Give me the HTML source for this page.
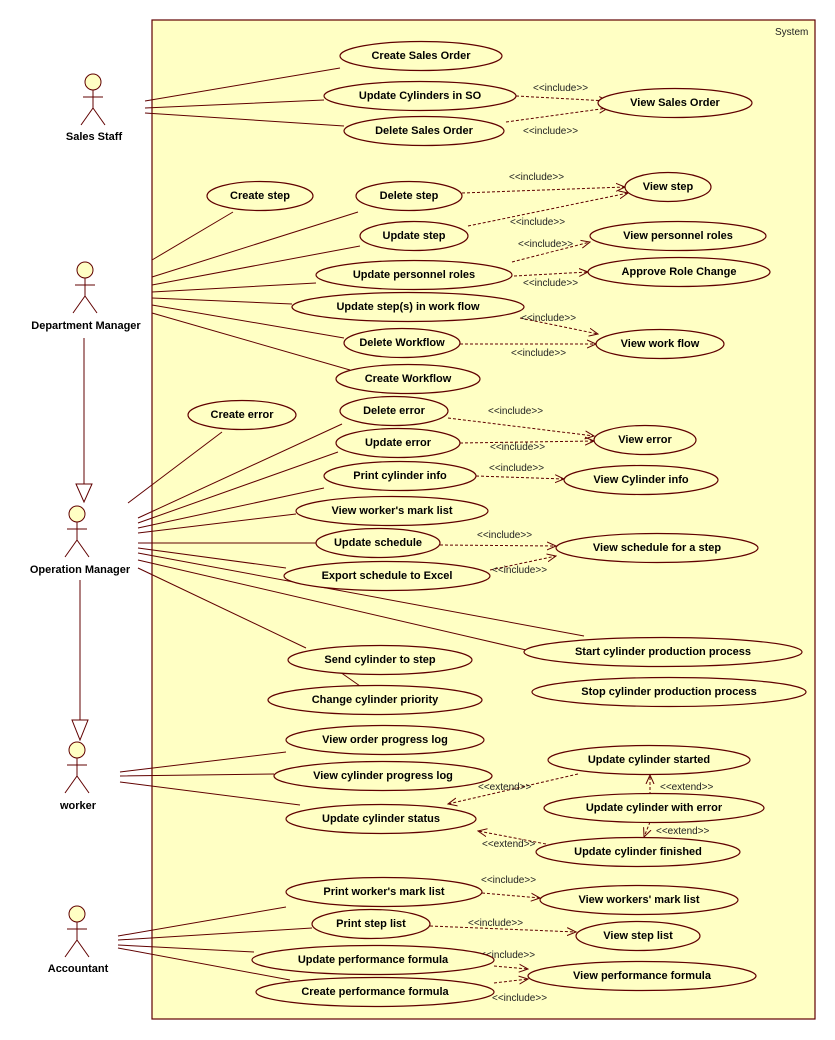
<!DOCTYPE html>
<html><head><meta charset="utf-8"><style>
html,body{margin:0;padding:0;background:#fff;}
svg{display:block;}
.e{fill:#ffffc4;stroke:#600000;stroke-width:1.2}
.t{font-family:"Liberation Sans",Tahoma,sans-serif;font-weight:bold;font-size:11px;fill:#000;text-anchor:middle;dominant-baseline:central}
.s{font-family:"Liberation Sans",Tahoma,sans-serif;font-size:10px;fill:#222}
.a{font-family:"Liberation Sans",Tahoma,sans-serif;font-weight:bold;font-size:11px;fill:#000;text-anchor:middle}
.l{stroke:#600000;stroke-width:1;fill:none}
.d{stroke:#600000;stroke-width:1;fill:none;stroke-dasharray:3,2;marker-end:url(#arr)}
</style></head><body>
<svg width="835" height="1040" viewBox="0 0 835 1040" xmlns="http://www.w3.org/2000/svg">
<defs><marker id="arr" markerWidth="10" markerHeight="10" refX="9" refY="5" orient="auto" markerUnits="userSpaceOnUse"><path d="M0,1 L9,5 L0,9" fill="none" stroke="#600000" stroke-width="1"/></marker></defs>
<rect x="152" y="20" width="663" height="999" fill="#ffffc4" stroke="#600000" stroke-width="1.2"/>
<text x="775" y="35" class="s">System</text>

<!-- associations -->
<g class="l">
<path d="M145,101 L340,68 M145,108 L324,100 M145,113 L344,126"/>
<path d="M152,260 L233,212 M152,277 L358,212 M152,285 L360,246 M152,292 L316,283 M152,298 L292,304 M152,305 L344,338 M152,313 L350,370"/>
<path d="M128,503 L222,432 M138,518 L342,424 M138,523 L338,452 M138,528 L324,488 M138,533 L296,514 M138,543 L316,543 M138,548 L286,568 M138,553 L584,636 M138,560 L526,650 M138,568 L306,648 M340,672 L360,686"/>
<path d="M120,772 L286,752 M120,776 L274,774 M120,782 L300,805"/>
<path d="M118,936 L286,907 M118,940 L312,928 M118,945 L254,952 M118,948 L290,980"/>
</g>
<!-- generalizations -->
<g class="l">
<path d="M84,338 L84,484 M76,484 L92,484 L84,502 Z" fill="#fff"/>
<path d="M80,580 L80,720 M72,720 L88,720 L80,740 Z" fill="#fff"/>
</g>

<!-- actors -->
<g class="l" fill="#ffffc4">
<g transform="translate(93,82)"><circle r="8" fill="#ffffc4"/><path d="M0,8 V26 M-10,15 H10 M0,26 L-12,43 M0,26 L12,43"/></g>
<g transform="translate(85,270)"><circle r="8" fill="#ffffc4"/><path d="M0,8 V26 M-10,15 H10 M0,26 L-12,43 M0,26 L12,43"/></g>
<g transform="translate(77,514)"><circle r="8" fill="#ffffc4"/><path d="M0,8 V26 M-10,15 H10 M0,26 L-12,43 M0,26 L12,43"/></g>
<g transform="translate(77,750)"><circle r="8" fill="#ffffc4"/><path d="M0,8 V26 M-10,15 H10 M0,26 L-12,43 M0,26 L12,43"/></g>
<g transform="translate(77,914)"><circle r="8" fill="#ffffc4"/><path d="M0,8 V26 M-10,15 H10 M0,26 L-12,43 M0,26 L12,43"/></g>
</g>
<text class="a" x="94" y="140">Sales Staff</text>
<text class="a" x="86" y="329">Department Manager</text>
<text class="a" x="80" y="573">Operation Manager</text>
<text class="a" x="78" y="809">worker</text>
<text class="a" x="78" y="972">Accountant</text>

<!-- dashed -->
<path class="d" d="M516,96 L608,101"/>
<path class="d" d="M506,122 L608,108"/>
<path class="d" d="M462,193 L625,187"/>
<path class="d" d="M468,226 L628,193"/>
<path class="d" d="M512,262 L590,242"/>
<path class="d" d="M514,276 L588,272"/>
<path class="d" d="M520,318 L598,334"/>
<path class="d" d="M460,344 L596,344"/>
<path class="d" d="M448,418 L594,436"/>
<path class="d" d="M460,443 L594,441"/>
<path class="d" d="M476,476 L564,479"/>
<path class="d" d="M440,545 L556,546"/>
<path class="d" d="M490,570 L556,556"/>
<path class="d" d="M578,774 L448,804"/>
<path class="d" d="M650,795 L650,775"/>
<path class="d" d="M650,822 L644,837"/>
<path class="d" d="M546,844 L478,831"/>
<path class="d" d="M482,893 L540,898"/>
<path class="d" d="M430,926 L576,932"/>
<path class="d" d="M494,966 L528,969"/>
<path class="d" d="M494,983 L528,979"/>

<g class="s">
<text x="533" y="91">&lt;&lt;include&gt;&gt;</text>
<text x="523" y="134">&lt;&lt;include&gt;&gt;</text>
<text x="509" y="180">&lt;&lt;include&gt;&gt;</text>
<text x="510" y="225">&lt;&lt;include&gt;&gt;</text>
<text x="518" y="247">&lt;&lt;include&gt;&gt;</text>
<text x="523" y="286">&lt;&lt;include&gt;&gt;</text>
<text x="521" y="321">&lt;&lt;include&gt;&gt;</text>
<text x="511" y="356">&lt;&lt;include&gt;&gt;</text>
<text x="488" y="414">&lt;&lt;include&gt;&gt;</text>
<text x="490" y="450">&lt;&lt;include&gt;&gt;</text>
<text x="489" y="471">&lt;&lt;include&gt;&gt;</text>
<text x="477" y="538">&lt;&lt;include&gt;&gt;</text>
<text x="492" y="573">&lt;&lt;include&gt;&gt;</text>
<text x="478" y="790">&lt;&lt;extend&gt;&gt;</text>
<text x="660" y="790">&lt;&lt;extend&gt;&gt;</text>
<text x="656" y="834">&lt;&lt;extend&gt;&gt;</text>
<text x="482" y="847">&lt;&lt;extend&gt;&gt;</text>
<text x="481" y="883">&lt;&lt;include&gt;&gt;</text>
<text x="468" y="926">&lt;&lt;include&gt;&gt;</text>
<text x="480" y="958">&lt;&lt;include&gt;&gt;</text>
<text x="492" y="1001">&lt;&lt;include&gt;&gt;</text>
</g>

<!-- use cases -->
<g>
<ellipse class="e" cx="421" cy="56" rx="81" ry="14.5"/><text class="t" x="421" y="56">Create Sales Order</text>
<ellipse class="e" cx="420" cy="96" rx="96" ry="14.5"/><text class="t" x="420" y="96">Update Cylinders in SO</text>
<ellipse class="e" cx="424" cy="131" rx="80" ry="14.5"/><text class="t" x="424" y="131">Delete Sales Order</text>
<ellipse class="e" cx="675" cy="103" rx="77" ry="14.5"/><text class="t" x="675" y="103">View Sales Order</text>
<ellipse class="e" cx="260" cy="196" rx="53" ry="14.5"/><text class="t" x="260" y="196">Create step</text>
<ellipse class="e" cx="409" cy="196" rx="53" ry="14.5"/><text class="t" x="409" y="196">Delete step</text>
<ellipse class="e" cx="668" cy="187" rx="43" ry="14.5"/><text class="t" x="668" y="187">View step</text>
<ellipse class="e" cx="414" cy="236" rx="54" ry="14.5"/><text class="t" x="414" y="236">Update step</text>
<ellipse class="e" cx="678" cy="236" rx="88" ry="14.5"/><text class="t" x="678" y="236">View personnel roles</text>
<ellipse class="e" cx="414" cy="275" rx="98" ry="14.5"/><text class="t" x="414" y="275">Update personnel roles</text>
<ellipse class="e" cx="679" cy="272" rx="91" ry="14.5"/><text class="t" x="679" y="272">Approve Role Change</text>
<ellipse class="e" cx="408" cy="307" rx="116" ry="14.5"/><text class="t" x="408" y="307">Update step(s) in work flow</text>
<ellipse class="e" cx="402" cy="343" rx="58" ry="14.5"/><text class="t" x="402" y="343">Delete Workflow</text>
<ellipse class="e" cx="660" cy="344" rx="64" ry="14.5"/><text class="t" x="660" y="344">View work flow</text>
<ellipse class="e" cx="408" cy="379" rx="72" ry="14.5"/><text class="t" x="408" y="379">Create Workflow</text>
<ellipse class="e" cx="242" cy="415" rx="54" ry="14.5"/><text class="t" x="242" y="415">Create error</text>
<ellipse class="e" cx="394" cy="411" rx="54" ry="14.5"/><text class="t" x="394" y="411">Delete error</text>
<ellipse class="e" cx="398" cy="443" rx="62" ry="14.5"/><text class="t" x="398" y="443">Update error</text>
<ellipse class="e" cx="645" cy="440" rx="51" ry="14.5"/><text class="t" x="645" y="440">View error</text>
<ellipse class="e" cx="400" cy="476" rx="76" ry="14.5"/><text class="t" x="400" y="476">Print cylinder info</text>
<ellipse class="e" cx="641" cy="480" rx="77" ry="14.5"/><text class="t" x="641" y="480">View Cylinder info</text>
<ellipse class="e" cx="392" cy="511" rx="96" ry="14.5"/><text class="t" x="392" y="511">View worker's mark list</text>
<ellipse class="e" cx="378" cy="543" rx="62" ry="14.5"/><text class="t" x="378" y="543">Update schedule</text>
<ellipse class="e" cx="657" cy="548" rx="101" ry="14.5"/><text class="t" x="657" y="548">View schedule for a step</text>
<ellipse class="e" cx="387" cy="576" rx="103" ry="14.5"/><text class="t" x="387" y="576">Export schedule to Excel</text>
<ellipse class="e" cx="663" cy="652" rx="139" ry="14.5"/><text class="t" x="663" y="652">Start cylinder production process</text>
<ellipse class="e" cx="380" cy="660" rx="92" ry="14.5"/><text class="t" x="380" y="660">Send cylinder to step</text>
<ellipse class="e" cx="669" cy="692" rx="137" ry="14.5"/><text class="t" x="669" y="692">Stop cylinder production process</text>
<ellipse class="e" cx="375" cy="700" rx="107" ry="14.5"/><text class="t" x="375" y="700">Change cylinder priority</text>
<ellipse class="e" cx="385" cy="740" rx="99" ry="14.5"/><text class="t" x="385" y="740">View order progress log</text>
<ellipse class="e" cx="383" cy="776" rx="109" ry="14.5"/><text class="t" x="383" y="776">View cylinder progress log</text>
<ellipse class="e" cx="381" cy="819" rx="95" ry="14.5"/><text class="t" x="381" y="819">Update cylinder status</text>
<ellipse class="e" cx="649" cy="760" rx="101" ry="14.5"/><text class="t" x="649" y="760">Update cylinder started</text>
<ellipse class="e" cx="654" cy="808" rx="110" ry="14.5"/><text class="t" x="654" y="808">Update cylinder with error</text>
<ellipse class="e" cx="638" cy="852" rx="102" ry="14.5"/><text class="t" x="638" y="852">Update cylinder finished</text>
<ellipse class="e" cx="384" cy="892" rx="98" ry="14.5"/><text class="t" x="384" y="892">Print worker's mark list</text>
<ellipse class="e" cx="639" cy="900" rx="99" ry="14.5"/><text class="t" x="639" y="900">View workers' mark list</text>
<ellipse class="e" cx="371" cy="924" rx="59" ry="14.5"/><text class="t" x="371" y="924">Print step list</text>
<ellipse class="e" cx="638" cy="936" rx="62" ry="14.5"/><text class="t" x="638" y="936">View step list</text>
<ellipse class="e" cx="373" cy="960" rx="121" ry="14.5"/><text class="t" x="373" y="960">Update performance formula</text>
<ellipse class="e" cx="642" cy="976" rx="114" ry="14.5"/><text class="t" x="642" y="976">View performance formula</text>
<ellipse class="e" cx="375" cy="992" rx="119" ry="14.5"/><text class="t" x="375" y="992">Create performance formula</text>
</g>
</svg>
</body></html>
